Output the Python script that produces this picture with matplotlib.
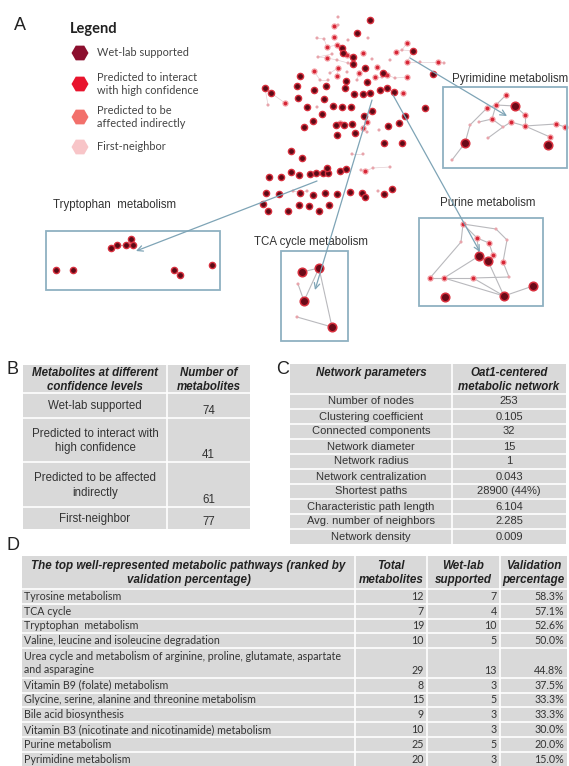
import matplotlib.pyplot as plt
from matplotlib.patches import Rectangle

# ---- network (A) ----
# main component: x, y, kind (w = wet-lab, h = high confidence, f = first-neighbor)
main_nodes = [
    (370, 20, 'w'), (357, 33, 'w'), (342, 48, 'w'), (343, 53, 'w'), (353, 57, 'w'),
    (353, 64, 'w'), (365, 68, 'w'), (383, 73, 'w'), (413, 51, 'w'), (433, 74, 'w'),
    (300, 76, 'w'), (265, 88, 'w'), (271, 93, 'w'), (297, 86, 'w'), (314, 90, 'w'),
    (326, 86, 'w'), (346, 81, 'w'), (367, 82, 'w'), (345, 88, 'w'), (354, 94, 'w'),
    (363, 94, 'w'), (370, 93, 'w'), (380, 90, 'w'), (387, 88, 'w'), (394, 92, 'w'),
    (298, 98, 'w'), (324, 99, 'w'), (333, 106, 'w'), (307, 107, 'w'), (351, 107, 'w'),
    (425, 108, 'w'), (342, 107, 'w'), (322, 114, 'w'), (313, 121, 'w'), (304, 127, 'w'),
    (336, 125, 'w'), (344, 125, 'w'), (352, 124, 'w'), (364, 116, 'w'), (372, 111, 'w'),
    (388, 126, 'w'), (399, 123, 'w'), (405, 116, 'w'), (337, 135, 'w'), (355, 133, 'w'),
    (384, 143, 'w'), (402, 143, 'w'), (291, 151, 'w'), (302, 158, 'w'), (291, 172, 'w'),
    (299, 175, 'w'), (310, 174, 'w'), (316, 173, 'w'), (323, 173, 'w'), (328, 173, 'w'),
    (327, 168, 'w'), (340, 171, 'w'), (346, 169, 'w'), (281, 177, 'w'), (269, 177, 'w'),
    (266, 193, 'w'), (279, 194, 'w'), (300, 193, 'w'), (313, 195, 'w'), (325, 193, 'w'),
    (337, 194, 'w'), (350, 192, 'w'), (362, 193, 'w'), (365, 197, 'w'), (384, 194, 'w'),
    (392, 189, 'w'), (263, 204, 'w'), (268, 211, 'w'), (288, 211, 'w'), (299, 205, 'w'),
    (309, 206, 'w'), (319, 211, 'w'), (329, 205, 'w'),
    (338, 17, 'f'), (334, 26, 'h'), (338, 25, 'f'), (317, 38, 'f'), (324, 39, 'f'),
    (334, 37, 'h'), (348, 40, 'f'), (368, 38, 'f'), (327, 47, 'h'), (337, 45, 'h'),
    (332, 54, 'f'), (318, 57, 'f'), (327, 58, 'h'), (337, 60, 'f'), (347, 55, 'h'),
    (348, 63, 'f'), (363, 53, 'h'), (372, 59, 'f'), (377, 67, 'h'), (359, 73, 'h'),
    (347, 72, 'f'), (338, 68, 'h'), (330, 73, 'f'), (314, 71, 'h'), (320, 80, 'f'),
    (328, 80, 'f'), (337, 76, 'h'), (357, 80, 'f'), (375, 77, 'h'), (382, 77, 'f'),
    (387, 75, 'h'), (395, 78, 'f'), (407, 77, 'h'), (396, 52, 'h'), (402, 50, 'f'),
    (407, 43, 'h'), (407, 62, 'h'), (420, 62, 'f'), (438, 62, 'h'), (444, 63, 'f'),
    (390, 60, 'f'), (285, 103, 'h'), (268, 105, 'f'), (403, 93, 'h'), (317, 107, 'f'),
    (340, 123, 'h'), (367, 122, 'h'), (379, 130, 'f'), (367, 132, 'f'), (363, 128, 'h'),
    (352, 154, 'f'), (363, 154, 'f'), (365, 171, 'h'), (373, 168, 'f'), (390, 167, 'f'),
    (361, 170, 'f'), (293, 191, 'f'), (307, 191, 'f'), (378, 191, 'f'),
]
main_edges = [(8, 114), (114, 115), (115, 116), (116, 117), (111, 112), (112, 113),
              (8, 112), (12, 119), (11, 120), (81, 82), (82, 86), (86, 87), (87, 2),
              (88, 89), (89, 90), (90, 91), (91, 93), (93, 5), (99, 100), (101, 102),
              (102, 103), (104, 99), (105, 97), (106, 107), (107, 108), (108, 109),
              (109, 110), (128, 129), (130, 131), (131, 132), (133, 130), (134, 135),
              (56, 57), (35, 36), (36, 37)]

pyr_nodes = [(487, 108, 'h'), (496, 105, 'h'), (506, 95, 'h'), (515, 106, 'W'),
             (525, 115, 'h'), (525, 126, 'h'), (492, 119, 'h'), (479, 122, 'f'),
             (503, 127, 'f'), (511, 122, 'h'), (556, 124, 'h'), (565, 127, 'h'),
             (550, 137, 'h'), (548, 145, 'W'), (488, 138, 'f'), (470, 125, 'f'),
             (465, 143, 'W'), (452, 160, 'f')]
pyr_edges = [(0, 1), (1, 2), (1, 3), (3, 4), (4, 5), (1, 6), (6, 7), (6, 8), (8, 9),
             (9, 5), (5, 10), (10, 11), (5, 12), (12, 13), (8, 14), (0, 15), (15, 16),
             (16, 17)]

pur_nodes = [(463, 224, 'h'), (477, 238, 'h'), (489, 243, 'h'), (461, 242, 'f'),
             (507, 240, 'f'), (479, 256, 'W'), (493, 255, 'h'), (488, 261, 'W'),
             (503, 262, 'h'), (430, 278, 'h'), (444, 278, 'h'), (473, 278, 'h'),
             (509, 277, 'f'), (533, 286, 'W'), (445, 297, 'W'), (504, 296, 'W'),
             (496, 229, 'f')]
pur_edges = [(0, 16), (16, 4), (4, 8), (0, 1), (1, 2), (2, 6), (6, 7), (5, 7), (0, 3),
             (3, 9), (9, 10), (10, 11), (11, 12), (10, 5), (7, 15), (15, 13), (11, 15),
             (10, 15), (8, 12), (1, 5)]

tca_nodes = [(302, 272, 'W'), (319, 268, 'W'), (298, 284, 'f'), (304, 301, 'W'),
             (297, 317, 'f'), (332, 327, 'W')]
tca_edges = [(0, 1), (1, 3), (2, 3), (4, 5), (1, 5)]

trp_nodes = [(111, 248, 'w'), (117, 245, 'w'), (126, 245, 'w'), (131, 239, 'w'),
             (133, 245, 'w'), (56, 270, 'w'), (73, 270, 'w'), (174, 270, 'w'),
             (180, 275, 'w'), (212, 265, 'w')]
trp_edges = [(0, 1), (1, 2), (2, 4), (3, 4)]

# inset boxes: label, x0, y0, x1, y1, label x, label y, arrow from, arrow to
insets = [
    ('Pyrimidine metabolism', 443, 87, 567, 168, 452, 79, (410, 58), (507, 116)),
    ('Tryptophan  metabolism', 46, 231, 220, 290, 53, 205, (317, 181), (136, 251)),
    ('TCA cycle metabolism', 281, 251, 348, 341, 254, 242, (372, 100), (315, 290)),
    ('Purine metabolism', 419, 218, 543, 306, 440, 203, (393, 95), (480, 252)),
]

legend_labels = ['Wet-lab supported', 'Predicted to interact\nwith high confidence',
                 'Predicted to be\naffected indirectly', 'First-neighbor']
legend_colors = ['#8c0f2e', '#e8142d', '#f2706b', '#f8c5c8']

# ---- table B ----
b_header = ['Metabolites at different\nconfidence levels', 'Number of\nmetabolites']
b_levels = ['Wet-lab supported', 'Predicted to interact with\nhigh confidence',
            'Predicted to be affected\nindirectly', 'First-neighbor']
b_counts = [74, 41, 61, 77]

# ---- table C ----
c_header = ['Network parameters', 'Oat1-centered\nmetabolic network']
c_params = ['Number of nodes', 'Clustering coefficient', 'Connected components',
            'Network diameter', 'Network radius', 'Network centralization',
            'Shortest paths', 'Characteristic path length', 'Avg. number of neighbors',
            'Network density']
c_values = ['253', '0.105', '32', '15', '1', '0.043', '28900 (44%)', '6.104', '2.285',
            '0.009']

# ---- table D ----
d_header = ['The top well-represented metabolic pathways (ranked by\nvalidation percentage)',
            'Total\nmetabolites', 'Wet-lab\nsupported', 'Validation\npercentage']
d_pathways = ['Tyrosine metabolism', 'TCA cycle', 'Tryptophan  metabolism',
              'Valine, leucine and isoleucine degradation',
              'Urea cycle and metabolism of arginine, proline, glutamate, aspartate\nand asparagine',
              'Vitamin B9 (folate) metabolism',
              'Glycine, serine, alanine and threonine metabolism', 'Bile acid biosynthesis',
              'Vitamin B3 (nicotinate and nicotinamide) metabolism', 'Purine metabolism',
              'Pyrimidine metabolism']
d_total = [12, 7, 19, 10, 29, 8, 15, 9, 10, 25, 20]
d_wetlab = [7, 4, 10, 5, 13, 3, 5, 3, 3, 5, 3]
d_pct = [58.3, 57.1, 52.6, 50.0, 44.8, 37.5, 33.3, 33.3, 30.0, 20.0, 15.0]

ARIAL = ['Liberation Sans', 'DejaVu Sans']
CALIBRI = ['Lato', 'DejaVu Sans']
GRAY = '#d9d9d9'
TXT = '#333333'
BOXC = '#8fb1c2'

fig = plt.figure(figsize=(5.69, 7.66), dpi=100)
ax = fig.add_axes([0, 0, 1, 1])
ax.set_xlim(0, 569)
ax.set_ylim(766, 0)
ax.axis('off')

node_style = {
    'w': dict(s=20, fc='#5c0a16', ec='#d8303e', lw=1.0),
    'W': dict(s=38, fc='#6a0a18', ec='#d8303e', lw=1.1),
    'h': dict(s=13, fc='#d62636', ec='#f4a0a6', lw=0.9),
    'f': dict(s=5, fc='#e8a4ab', ec='none', lw=0),
}


def draw_graph(nodes, edges, ecolor, lw):
    for i, j in edges:
        ax.plot([nodes[i][0], nodes[j][0]], [nodes[i][1], nodes[j][1]],
                color=ecolor, lw=lw, zorder=2)
    for kind in ['f', 'h', 'w', 'W']:
        pts = [(x, y) for x, y, k in nodes if k == kind]
        if pts:
            xs, ys = zip(*pts)
            ax.scatter(xs, ys, zorder=3, **node_style[kind])


draw_graph(main_nodes, main_edges, '#e4cfd3', 0.5)
for nodes, edges in [(pyr_nodes, pyr_edges), (pur_nodes, pur_edges),
                     (tca_nodes, tca_edges), (trp_nodes, trp_edges)]:
    draw_graph(nodes, edges, '#b9b9bd', 0.8)

for label, x0, y0, x1, y1, lx, ly, a0, a1 in insets:
    ax.add_patch(Rectangle((x0, y0), x1 - x0, y1 - y0, fill=False, ec=BOXC, lw=1.3,
                           zorder=4))
    ax.text(lx, ly, label, fontsize=8.3, family=ARIAL, color=TXT, va='center')
    ax.annotate('', xy=a1, xytext=a0,
                arrowprops=dict(arrowstyle='->', color='#7ea4b6', lw=0.9,
                                shrinkA=0, shrinkB=0), zorder=5)

# legend
ax.text(70, 29, 'Legend', fontsize=10.5, weight='bold', family=CALIBRI, color='#222',
        va='center')
leg_y = [53, 84, 117, 147]
for lab, col, y in zip(legend_labels, legend_colors, leg_y):
    ax.scatter([80], [y], marker='H', s=150, c=col, ec='none', zorder=3)
    ax.text(97, y, lab, fontsize=7.9, family=CALIBRI, color='#444', va='center',
            linespacing=1.25)

# panel letters
for letter, x, y in [('A', 20, 25), ('B', 13, 369), ('C', 283, 369), ('D', 13, 545)]:
    ax.text(x, y, letter, fontsize=13, family=ARIAL, color='#222', ha='center',
            va='center')


def grid(xs, ys):
    ax.add_patch(Rectangle((xs[0], ys[0]), xs[-1] - xs[0], ys[-1] - ys[0], fc=GRAY,
                           ec='none', zorder=1))
    for x in xs[1:-1]:
        ax.plot([x, x], [ys[0], ys[-1]], color='white', lw=1.2, zorder=2)
    for y in ys[1:-1]:
        ax.plot([xs[0], xs[-1]], [y, y], color='white', lw=1.2, zorder=2)


hdr = dict(fontsize=8.3, family=ARIAL, weight='bold', style='italic', color='#222',
           ha='center', va='center', linespacing=1.3)
body = dict(fontsize=8.3, family=ARIAL, color=TXT, va='center', linespacing=1.3)

# table B
bx = [23, 167, 250]
by = [365, 393, 418, 462, 507, 529]
grid(bx, by)
ax.text((bx[0] + bx[1]) / 2, 380, b_header[0], **hdr)
ax.text((bx[1] + bx[2]) / 2, 380, b_header[1], **hdr)
for i, (lev, n) in enumerate(zip(b_levels, b_counts)):
    top, bot = by[i + 1], by[i + 2]
    ax.text((bx[0] + bx[1]) / 2, (top + bot) / 2 + 1, lev, ha='center', **body)
    ax.text((bx[1] + bx[2]) / 2, bot - 7, str(n), ha='center', **body)

# table C
cbody = dict(body, fontsize=8)
cx = [290, 452, 566]
cy = [364, 394] + [394 + 15 * (i + 1) for i in range(len(c_params))]
grid(cx, cy)
ax.text((cx[0] + cx[1]) / 2, 373, c_header[0], **hdr)
ax.text((cx[1] + cx[2]) / 2, 380, c_header[1], **hdr)
for i, (p, v) in enumerate(zip(c_params, c_values)):
    yc = (cy[i + 1] + cy[i + 2]) / 2
    ax.text((cx[0] + cx[1]) / 2, yc, p, ha='center', **cbody)
    ax.text((cx[1] + cx[2]) / 2, yc, v, ha='center', **cbody)

# table D
dx = [22, 355, 427, 500, 567]
row_h = [14.8, 14.8, 14.8, 14.8, 29.6, 14.8, 14.8, 14.8, 14.8, 14.8, 14.8]
dy = [556, 589]
for h in row_h:
    dy.append(dy[-1] + h)
grid(dx, dy)
ax.text((dx[0] + dx[1]) / 2, 573, d_header[0], **dict(hdr, fontsize=8.4))
for k in range(1, 4):
    ax.text((dx[k] + dx[k + 1]) / 2, 573, d_header[k], **dict(hdr, fontsize=8.4))
dbody = dict(fontsize=7.7, family=CALIBRI, color=TXT, va='center', linespacing=1.3)
for i, (name, t, w, p) in enumerate(zip(d_pathways, d_total, d_wetlab, d_pct)):
    top, bot = dy[i + 1], dy[i + 2]
    ax.text(dx[0] + 2, (top + bot) / 2, name, ha='left', **dbody)
    yv = bot - 7.4
    ax.text(dx[2] - 3, yv, str(t), ha='right', **dbody)
    ax.text(dx[3] - 3, yv, str(w), ha='right', **dbody)
    ax.text(dx[4] - 3, yv, f'{p:.1f}%', ha='right', **dbody)

fig.savefig('out.png', dpi=100)
